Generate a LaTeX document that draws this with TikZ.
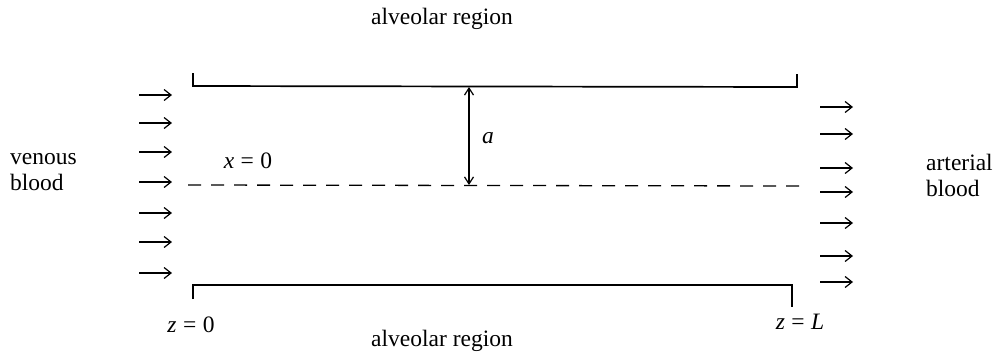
\documentclass[tikz,border=0pt]{standalone}
\usepackage{fontspec}
\setmainfont{Liberation Serif}
\usetikzlibrary{arrows.meta}
\newcommand\vi[1]{\textit{#1}}
\begin{document}
\begin{tikzpicture}[x=1pt,y=-1pt,
  lbl/.style={inner sep=0pt,font=\fontsize{23.5}{26}\selectfont},
  wall/.style={line width=1.7pt},
  flow/.style={line width=1.2pt,-{Straight Barb[length=7pt,width=11pt]}},
  dim/.style={line width=1.2pt,{Straight Barb[length=7pt,width=9pt]}-{Straight Barb[length=7pt,width=9pt]}}]
\useasboundingbox (0,0) rectangle (1001,357);
% text
\node[lbl] (topreg) at (442,19) {alveolar region};
\node[lbl] (botreg) at (442,341) {alveolar region};
\node[lbl,align=left,anchor=west] (venous) at (10,172) {venous\\blood};
\node[lbl,align=left,anchor=west] (arterial) at (926,175) {arterial\\blood};
\node[lbl] (xzero) at (248,161) {\vi{x}\;=\;0};
\node[lbl] (zzero) at (191,325) {\vi{z}\;=\;0};
\node[lbl] (zL) at (800,322) {\vi{z}\;=\;\vi{L}};
% walls
\coordinate (tl0) at (193,73);
\coordinate (tl1) at (193,86);
\coordinate (tr1) at (797,87);
\coordinate (tr0) at (797,74);
\draw[wall] (tl0) -- (tl1) -- (tr1) -- (tr0);
\coordinate (bl0) at (193,299);
\coordinate (bl1) at (193,285);
\coordinate (br1) at (792,285);
\coordinate (br0) at (792,307);
\draw[wall] (bl0) -- (bl1) -- (br1) -- (br0);
% centreline
\coordinate (d0) at (188,185);
\coordinate (d1) at (800,186);
\draw[line width=1.3pt,dash pattern=on 13pt off 10pt] (d0) -- (d1);
% dimension a
\coordinate (a0) at (469,87);
\coordinate (a1) at (469,185);
\draw[dim] (a0) -- (a1);
\node[lbl] (alab) at (488,138) {\vi{a}};
% inflow arrows
\foreach \y [count=\i] in {95,123,152,182,213,242,273}{
  \coordinate (li\i) at (139,\y);
  \coordinate (lo\i) at (172,\y);
  \draw[flow] (li\i) -- (lo\i);
}
% outflow arrows
\foreach \y [count=\i] in {107,134,168,192,223,256,282}{
  \coordinate (ri\i) at (820,\y);
  \coordinate (ro\i) at (853,\y);
  \draw[flow] (ri\i) -- (ro\i);
}
\end{tikzpicture}
\end{document}
